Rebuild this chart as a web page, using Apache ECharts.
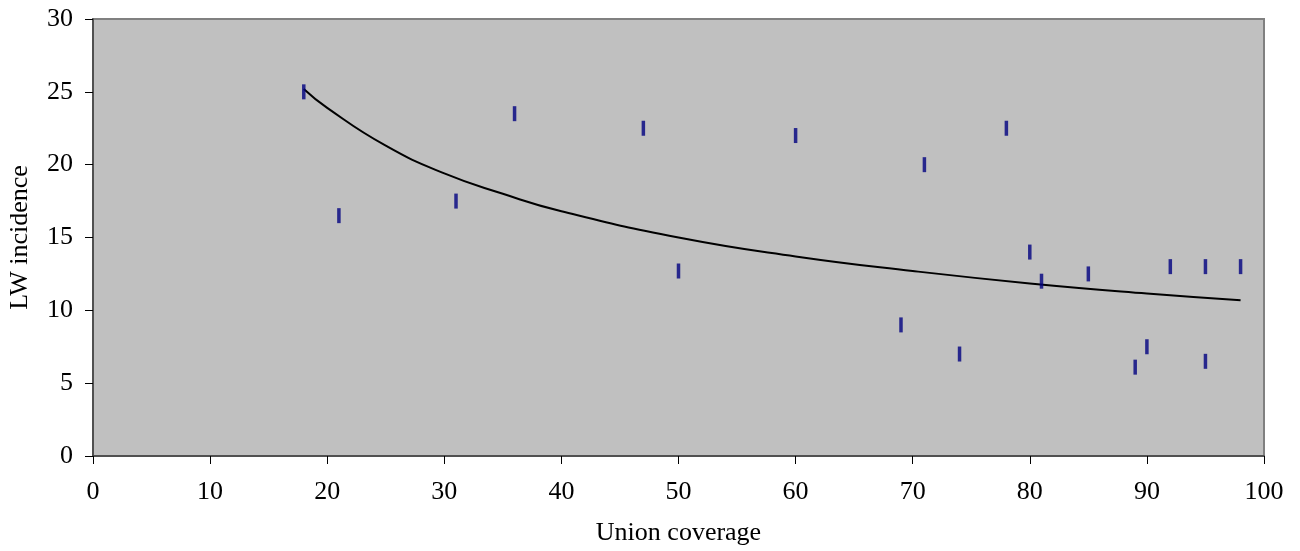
<!DOCTYPE html>
<html>
<head>
	<meta charset="utf-8">
	<title>LW incidence vs union coverage</title>
	<script type="text/javascript" src="https://cdn.jsdelivr.net/npm/echarts@6/dist/echarts.min.js"></script>
	<style type="text/css">
		html, body{ margin:0; padding:0; background:#fff; }
		#main{ width:1300px; height:551px; }
	</style>
</head>
<body>
<div id="main"></div>
<script type="text/javascript">
	// observed points: union coverage (x) and LW incidence (y)
	var coverage = [18, 21, 31, 36, 47, 50, 60, 69, 71, 74, 78, 80, 81, 85, 89, 90, 92, 95, 95, 98];
	var incidence = [25.0, 16.5, 17.5, 23.5, 22.5, 12.7, 22.0, 9.0, 20.0, 7.0, 22.5, 14.0, 12.0, 12.5, 6.1, 7.5, 13.0, 13.0, 6.5, 13.0];

	// trend curve
	var trendX = [18, 20, 25, 30, 35, 40, 50, 60, 70, 80, 90, 98];
	var trendY = [25.2, 23.9, 21.3, 19.4, 18.0, 16.8, 15.0, 13.7, 12.7, 11.85, 11.16, 10.7];

	var xTicks = [0, 10, 20, 30, 40, 50, 60, 70, 80, 90, 100];

	var points = [];
	for(var i=0;i<coverage.length;i++){
		points.push([coverage[i], incidence[i]]);
	}
	var trend = [];
	for(var j=0;j<trendX.length;j++){
		trend.push([trendX[j], trendY[j]]);
	}

	var font = '"Liberation Serif", "DejaVu Serif", serif';

	var myChart = echarts.init(document.getElementById("main"));

	var option = {
		animation: false,
		textStyle: { fontFamily: font },
		grid: {
			left: 93,
			right: 36,
			top: 19,
			bottom: 95,
			outerBoundsMode: 'none',
			containLabel: false,
			show: true,
			backgroundColor: '#c0c0c0',
			borderColor: '#808080',
			borderWidth: 2
		},
		xAxis: {
			type: 'value',
			min: 0,
			max: 100,
			interval: 10,
			name: 'Union coverage',
			nameLocation: 'middle',
			nameGap: 64,
			nameTextStyle: { fontFamily: font, fontSize: 26, color: '#000' },
			splitLine: { show: false },
			axisLine: { show: true, onZero: false, lineStyle: { color: '#404040', width: 1.5 } },
			axisTick: { show: true, length: 8, lineStyle: { color: '#000' } },
			axisLabel: {
				fontFamily: font, fontSize: 26, color: '#000', margin: 23,
				formatter: function(v){ return xTicks.indexOf(v) >= 0 ? String(v) : ''; }
			}
		},
		yAxis: {
			type: 'value',
			min: 0,
			max: 30,
			interval: 5,
			name: 'LW incidence',
			nameLocation: 'middle',
			nameGap: 60,
			nameTextStyle: { fontFamily: font, fontSize: 26, color: '#000' },
			splitLine: { show: false },
			axisLine: { show: true, onZero: false, lineStyle: { color: '#404040', width: 1.5 } },
			axisTick: { show: true, length: 8, lineStyle: { color: '#000' } },
			axisLabel: { fontFamily: font, fontSize: 26, color: '#000', margin: 20 }
		},
		series: [{
			type: 'line',
			data: trend,
			smooth: true,
			showSymbol: false,
			symbol: 'none',
			lineStyle: { color: '#000', width: 2 },
			z: 2
		}, {
			type: 'scatter',
			data: points,
			symbol: 'rect',
			symbolSize: [3.5, 15],
			itemStyle: { color: '#000080' },
			z: 3
		}]
	};

	myChart.setOption(option);
</script>
</body>
</html>
